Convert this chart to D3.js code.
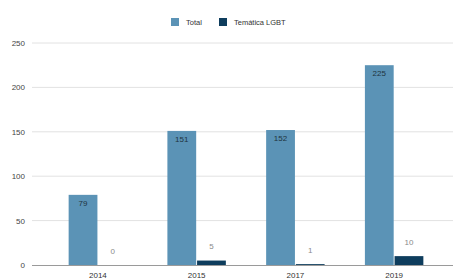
<!DOCTYPE html>
<html>
<head>
<meta charset="utf-8">
<script src="https://cdn.jsdelivr.net/npm/d3@7"></script>
<style>
  html, body { margin: 0; padding: 0; background: #fff; }
  svg text { font-family: "Liberation Sans", Arial, sans-serif; }
</style>
</head>
<body>
<div id="chart"></div>
<script>
// chart data
const years = ['2014', '2015', '2017', '2019'];
const totalValues = [79, 151, 152, 225];
const lgbtValues = [0, 5, 1, 10];
const seriesNames = ['Total', 'Temática LGBT'];
const yTicks = [0, 50, 100, 150, 200, 250];

const width = 453, height = 279;
const colors = ['#5b93b6', '#0e3d5d'];

const svg = d3.select('#chart')
    .append('svg')
    .attr('width', width)
    .attr('height', height);

// scales
const yScale = d3.scaleLinear()
    .domain([0, 250])
    .range([265, 43]);

const xScale = d3.scaleBand()
    .domain(years)
    .range([48, 444])
    .paddingInner(0.39)
    .paddingOuter(0.2);

const subScale = d3.scaleBand()
    .domain(seriesNames)
    .range([0, xScale.bandwidth()])
    .padding(0.03);

// grid
svg.append('g')
    .selectAll('line')
    .data(yTicks.filter((d) => d > 0))
    .enter()
    .append('line')
        .attr('x1', 32)
        .attr('x2', width)
        .attr('y1', (d) => yScale(d))
        .attr('y2', (d) => yScale(d))
        .attr('stroke', '#e2e2e2')
        .attr('stroke-width', 1);

// y axis labels
const yAxis = svg.append('g')
    .attr('transform', 'translate(25, 0)')
    .call(d3.axisLeft(yScale).tickValues(yTicks).tickSize(0).tickPadding(0));
yAxis.select('.domain').remove();
yAxis.selectAll('text')
    .attr('fill', '#444')
    .attr('font-size', '8px');

// bars
const groups = svg.selectAll('.year')
    .data(years)
    .enter()
    .append('g')
        .attr('class', 'year')
        .attr('transform', (d) => `translate(${xScale(d)}, 0)`);

const rows = (i) => [
    { key: seriesNames[0], value: totalValues[i] },
    { key: seriesNames[1], value: lgbtValues[i] }
];

groups.selectAll('rect')
    .data((d, i) => rows(i))
    .enter()
    .append('rect')
        .attr('x', (d) => subScale(d.key))
        .attr('width', subScale.bandwidth())
        .attr('y', (d) => yScale(d.value))
        .attr('height', (d) => yScale(0) - yScale(d.value))
        .attr('fill', (d, i) => colors[i]);

// value labels
groups.selectAll('.val')
    .data((d, i) => rows(i))
    .enter()
    .append('text')
        .attr('class', 'val')
        .attr('x', (d) => subScale(d.key) + subScale.bandwidth() / 2)
        .attr('y', (d, i) => i === 0 ? yScale(d.value) + 11 : yScale(d.value) - 11.5)
        .attr('text-anchor', 'middle')
        .attr('font-size', '8px')
        .attr('fill', (d, i) => i === 0 ? '#1f3340' : '#8a8a8a')
        .text((d) => d.value);

// x axis line
svg.append('line')
    .attr('x1', 32)
    .attr('x2', width)
    .attr('y1', yScale(0) + 0.5)
    .attr('y2', yScale(0) + 0.5)
    .attr('stroke', '#9a9a9a')
    .attr('stroke-width', 1.2);

const xAxis = svg.append('g')
    .attr('transform', `translate(0, ${yScale(0)})`)
    .call(d3.axisBottom(xScale).tickSize(0).tickPadding(7));
xAxis.select('.domain').remove();
xAxis.selectAll('text')
    .attr('fill', '#333')
    .attr('font-size', '8px');

// legend
const legend = svg.append('g').attr('transform', 'translate(171, 18)');
const legendX = [0, 48];
seriesNames.forEach((name, i) => {
    legend.append('rect')
        .attr('x', legendX[i])
        .attr('y', 0)
        .attr('width', 8)
        .attr('height', 8)
        .attr('fill', colors[i]);
    legend.append('text')
        .attr('x', legendX[i] + 15)
        .attr('y', 7)
        .attr('font-size', '7.5px')
        .attr('fill', '#333')
        .text(name);
});
</script>
</body>
</html>
